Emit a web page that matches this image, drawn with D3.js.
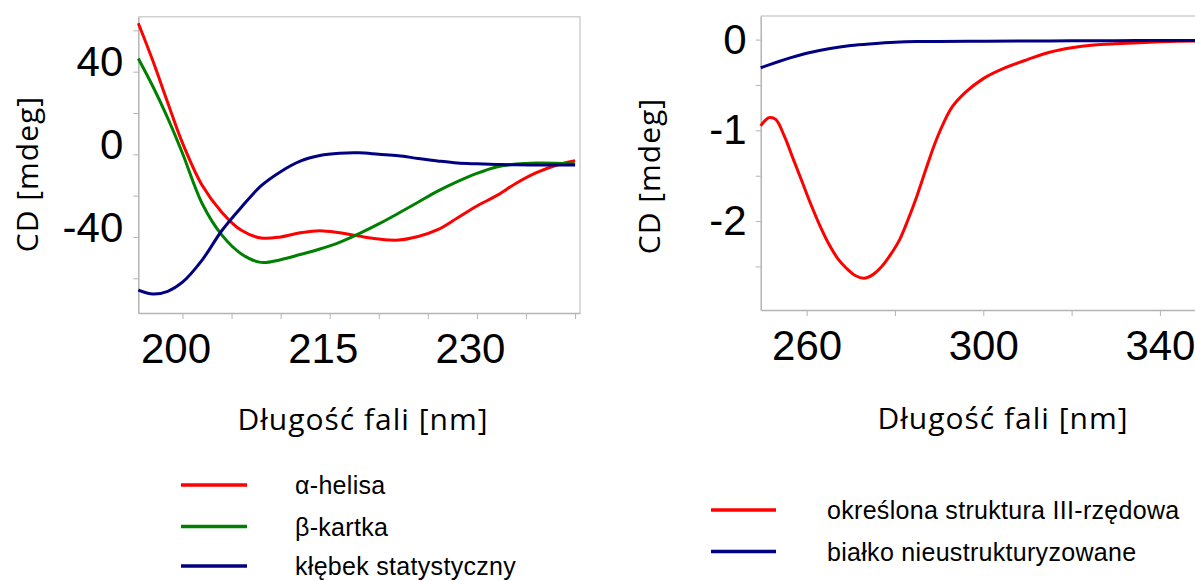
<!DOCTYPE html>
<html>
<head>
<meta charset="utf-8">
<script src="https://cdn.jsdelivr.net/npm/d3@7"></script>
<style>
  body { margin: 0; background: #fff; }
  svg { display: block; }
  .tick text { font-family: "Liberation Sans", Arial, sans-serif; font-size: 42px; fill: #000; }
  .title { font-family: "Open Sans", Lato, sans-serif; font-size: 30px; letter-spacing: 1px; fill: #000; }
  .legend text { font-family: "Liberation Sans", Arial, sans-serif; font-size: 25px; letter-spacing: 0.3px; fill: #000; }
</style>
</head>
<body>
<svg width="1195" height="581"></svg>
<script>
// left chart: far-UV CD
var wlFar = [195.5, 197, 198.5, 200, 202, 204, 206, 208, 210, 212, 214, 216, 218, 220,
  222, 224, 226, 228, 230, 232, 234, 236, 238, 240];
var helix = [63.4, 45, 25, 5.5, -15, -28, -36.8, -40.5, -40, -38, -37, -38, -39.6, -41,
  -41.5, -39.8, -36.5, -30.8, -25, -20, -14, -9, -5.4, -3.1];
var sheet = [46.4, 32.7, 17.5, 0.5, -23.8, -39, -48.2, -52.3, -51, -48.5, -45.8, -42.6, -38.4, -33.7,
  -28.5, -23.2, -17.8, -13.2, -9.2, -6.1, -4.7, -4.2, -4.3, -4.7];
var coil = [-65.7, -67.6, -66.3, -61.9, -51.2, -37, -25.6, -15.3, -8.4, -3.3, -0.6, 0.5, 0.7, 0,
  -0.7, -2, -3.2, -4.2, -4.6, -4.9, -5.1, -5.2, -5.2, -5.2];

// right chart: near-UV CD
var wlNear = [249.6, 251.5, 253, 255, 257, 259, 261, 263, 265, 267, 269, 271, 273, 275, 277, 279,
  281, 283, 285, 287, 289, 291, 293, 296, 300, 305, 310, 315, 320, 325, 330, 340, 350];
var tertiary = [-0.95, -0.86, -0.88, -1.07, -1.32, -1.57, -1.82, -2.05, -2.25, -2.41, -2.52, -2.6, -2.63,
  -2.59, -2.5, -2.37, -2.21, -1.98, -1.72, -1.43, -1.15, -0.92, -0.74, -0.58, -0.43, -0.31, -0.22,
  -0.14, -0.09, -0.06, -0.045, -0.025, -0.012];
var wlNearU = [249.6, 255, 260, 265, 270, 275, 280, 285, 290, 300, 310, 320, 330, 340, 350];
var unstructured = [-0.31, -0.22, -0.15, -0.1, -0.065, -0.045, -0.03, -0.022, -0.02, -0.018, -0.016,
  -0.014, -0.012, -0.01, -0.01];

var farTicksX = [200, 205, 210, 215, 220, 225, 230, 235, 240];
var farLabelsX = [200, 215, 230];
var farTicksY = [-60, -40, -20, 0, 20, 40, 60];
var farLabelsY = [-40, 0, 40];
var nearTicksX = [260, 280, 300, 320, 340];
var nearLabelsX = [260, 300, 340];
var nearTicksY = [-2.5, -2, -1.5, -1, -0.5, 0];
var nearLabelsY = [-2, -1, 0];

var legendFar = ["α-helisa", "β-kartka", "kłębek statystyczny"];
var legendNear = ["określona struktura III-rzędowa", "białko nieustrukturyzowane"];

var RED = "#ff0000", GREEN = "#008000", NAVY = "#000080";
var AXIS = "#b4b4b4", FRAME = "#d0d0d0";

var svg = d3.select("svg");

function drawPanel(opt) {
  var x = d3.scaleLinear().domain(opt.xDomain).range(opt.xRange);
  var y = d3.scaleLinear().domain(opt.yDomain).range(opt.yRange);
  var g = svg.append("g");

  // frame top/right
  g.append("path")
    .attr("d", "M" + opt.xRange[0] + "," + opt.yRange[1] + "H" + opt.xRange[1] + "V" + opt.yRange[0])
    .attr("fill", "none").attr("stroke", FRAME).attr("stroke-width", 1.5);

  var xAxis = g.append("g")
    .attr("transform", "translate(0," + opt.yRange[0] + ")")
    .call(d3.axisBottom(x).tickValues(opt.xTicks).tickSize(6).tickSizeOuter(0)
      .tickFormat(function (d) { return opt.xLabels.indexOf(d) >= 0 ? d : ""; }));
  xAxis.select(".domain").attr("stroke", AXIS).attr("stroke-width", 1.5);
  xAxis.selectAll(".tick line").attr("stroke", AXIS);
  xAxis.selectAll(".tick text").attr("y", 0).attr("dy", opt.xLabelBase).attr("dx", opt.xLabelDx);

  var yAxis = g.append("g")
    .attr("transform", "translate(" + opt.xRange[0] + ",0)")
    .call(d3.axisLeft(y).tickValues(opt.yTicks).tickSize(5).tickSizeOuter(0)
      .tickFormat(function (d) { return opt.yLabels.indexOf(d) >= 0 ? d : ""; }));
  yAxis.select(".domain").attr("stroke", AXIS).attr("stroke-width", 1.5);
  yAxis.selectAll(".tick line").attr("stroke", AXIS);
  yAxis.selectAll(".tick text").attr("x", -opt.yLabelGap).attr("dy", opt.yLabelDy);

  var line = d3.line()
    .x(function (d) { return x(d[0]); })
    .y(function (d) { return y(d[1]); })
    .curve(d3.curveCatmullRom);

  opt.series.forEach(function (s) {
    g.append("path")
      .datum(d3.zip(s.x, s.y))
      .attr("d", line)
      .attr("fill", "none")
      .attr("stroke", s.color)
      .attr("stroke-width", 3);
  });

  g.append("text").attr("class", "title")
    .attr("x", opt.titleX).attr("y", opt.titleY)
    .attr("text-anchor", "middle")
    .text("Długość fali [nm]");

  g.append("text").attr("class", "title")
    .attr("transform", "translate(" + opt.yTitleX + "," + opt.yTitleY + ") rotate(-90)")
    .attr("text-anchor", "middle")
    .text("CD [mdeg]");

  var lg = svg.append("g").attr("class", "legend");
  opt.legend.forEach(function (name, i) {
    var yy = opt.legendY[i];
    lg.append("line")
      .attr("x1", opt.legendX[0]).attr("x2", opt.legendX[1])
      .attr("y1", yy).attr("y2", yy)
      .attr("stroke", opt.series[i].color).attr("stroke-width", 3.5);
    lg.append("text")
      .attr("x", opt.legendX[2]).attr("y", yy + 9)
      .text(name);
  });
}

drawPanel({
  xDomain: [195.5, 240.5], xRange: [138.3, 580],
  yDomain: [-76.8, 66.6], yRange: [313, 16.7],
  xTicks: farTicksX, xLabels: farLabelsX, xLabelBase: 50, xLabelDx: -7,
  yTicks: farTicksY, yLabels: farLabelsY, yLabelGap: 15, yLabelDy: "0.1em",
  series: [
    { x: wlFar, y: helix, color: RED },
    { x: wlFar, y: sheet, color: GREEN },
    { x: wlFar, y: coil, color: NAVY }
  ],
  titleX: 363, titleY: 430, yTitleX: 38, yTitleY: 174,
  legend: legendFar, legendX: [181, 247, 295], legendY: [485, 526.5, 566]
});

drawPanel({
  xDomain: [249.6, 350], xRange: [760.7, 1204.1],
  yDomain: [-2.98, 0.26], yRange: [310, 16],
  xTicks: nearTicksX, xLabels: nearLabelsX, xLabelBase: 50, xLabelDx: 0,
  yTicks: nearTicksY, yLabels: nearLabelsY, yLabelGap: 14, yLabelDy: "0.32em",
  series: [
    { x: wlNear, y: tertiary, color: RED },
    { x: wlNearU, y: unstructured, color: NAVY }
  ],
  titleX: 1003, titleY: 429, yTitleX: 660, yTitleY: 176,
  legend: legendNear, legendX: [711, 776, 827], legendY: [510, 551.5]
});
</script>
</body>
</html>
